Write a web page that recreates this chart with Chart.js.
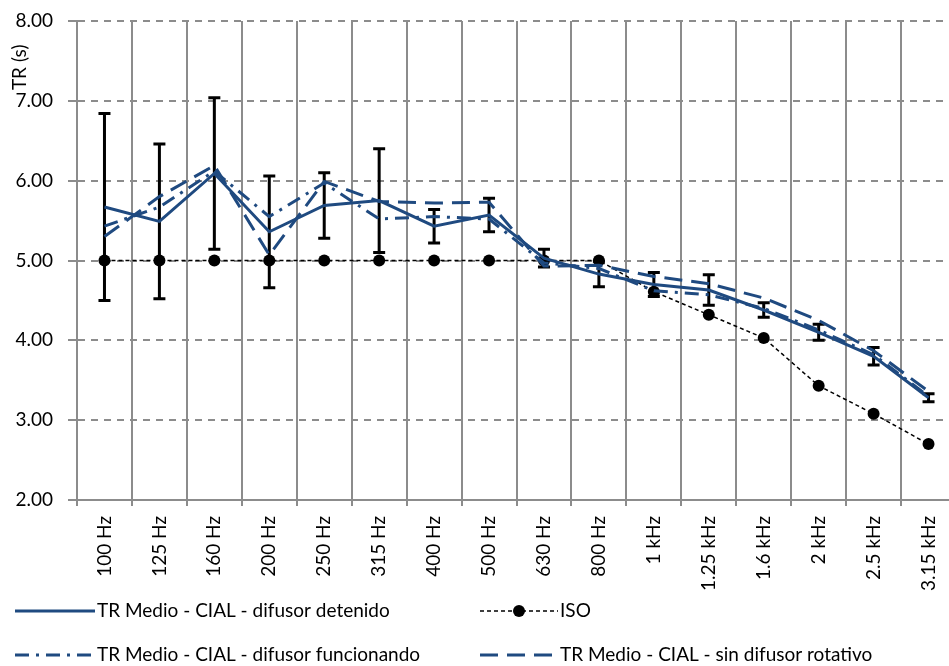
<!DOCTYPE html>
<html>
<head>
<meta charset="utf-8">
<script src="https://cdn.jsdelivr.net/npm/chart.js@4"></script>
<style>
  html, body { margin: 0; padding: 0; background: #fff; overflow: hidden; }
  #wrap { width: 962px; height: 666px; }
</style>
</head>
<body>
<div id="wrap"><canvas id="c" width="962" height="666"></canvas></div>
<script>
// Bandas de tercio de octava
const bandas = ['100 Hz', '125 Hz', '160 Hz', '200 Hz', '250 Hz', '315 Hz', '400 Hz', '500 Hz',
                '630 Hz', '800 Hz', '1 kHz', '1.25 kHz', '1.6 kHz', '2 kHz', '2.5 kHz', '3.15 kHz'];

// Tiempo de reverberación medio (s)
const trDetenido     = [5.67, 5.49, 6.09, 5.36, 5.69, 5.75, 5.43, 5.57, 5.03, 4.83, 4.70, 4.63, 4.38, 4.10, 3.80, 3.28];
const desvDetenido   = [1.17, 0.97, 0.95, 0.70, 0.41, 0.65, 0.21, 0.21, 0.11, 0.16, 0.15, 0.19, 0.09, 0.10, 0.11, 0.05];
const trFuncionando  = [5.43, 5.67, 6.12, 5.55, 5.97, 5.52, 5.55, 5.52, 4.97, 4.90, 4.62, 4.57, 4.40, 4.13, 3.82, 3.30];
const trSinDifusor   = [5.30, 5.80, 6.19, 5.07, 5.99, 5.74, 5.72, 5.73, 4.93, 4.94, 4.80, 4.71, 4.53, 4.25, 3.87, 3.36];
const trISO          = [5.00, 5.00, 5.00, 5.00, 5.00, 5.00, 5.00, 5.00, 5.00, 5.00, 4.61, 4.32, 4.03, 3.43, 3.08, 2.70];

// Eje vertical
const yTicks = [2, 3, 4, 5, 6, 7, 8];
const yTitulo = 'TR (s)';

const AZUL = '#1f4a80';
const GRIS = '#8c8c8c';
const FUENTE = 'Lato, "Liberation Sans", sans-serif';

Chart.defaults.font.family = FUENTE;
Chart.defaults.font.size = 19;
Chart.defaults.color = '#000';

// Barras de error (± desviación) sobre la serie "difusor detenido"
const barrasError = {
  id: 'barrasError',
  beforeDatasetsDraw(chart) {
    const ctx = chart.ctx;
    const x = chart.scales.x, y = chart.scales.y;
    ctx.save();
    ctx.strokeStyle = '#000';
    ctx.lineWidth = 3;
    ctx.lineCap = 'butt';
    trDetenido.forEach((v, i) => {
      const px = x.getPixelForValue(i);
      const top = y.getPixelForValue(v + desvDetenido[i]);
      const bot = y.getPixelForValue(v - desvDetenido[i]);
      ctx.beginPath();
      ctx.moveTo(px, top); ctx.lineTo(px, bot);
      ctx.moveTo(px - 6, top); ctx.lineTo(px + 6, top);
      ctx.moveTo(px - 6, bot); ctx.lineTo(px + 6, bot);
      ctx.stroke();
    });
    ctx.restore();
  }
};

// Título del eje vertical y leyenda
const textos = {
  id: 'textos',
  afterDraw(chart) {
    const ctx = chart.ctx;
    const y = chart.scales.y;
    ctx.save();
    ctx.fillStyle = '#000';
    ctx.font = '19px ' + FUENTE;
    ctx.textAlign = 'center';
    ctx.textBaseline = 'middle';
    ctx.translate(20, y.getPixelForValue(7.42));
    ctx.rotate(-Math.PI / 2);
    ctx.fillText(yTitulo, 0, 0);
    ctx.restore();

    const items = [
      { ds: 0, x: 15, y: 611, len: 80 },
      { ds: 1, x: 480, y: 611, len: 78 },
      { ds: 2, x: 15, y: 655, len: 80 },
      { ds: 3, x: 480, y: 655, len: 78 }
    ];
    ctx.save();
    ctx.font = '19px ' + FUENTE;
    ctx.textAlign = 'left';
    ctx.textBaseline = 'middle';
    items.forEach(it => {
      const d = chart.data.datasets[it.ds];
      ctx.save();
      ctx.strokeStyle = d.borderColor;
      ctx.lineWidth = d.borderWidth;
      ctx.setLineDash(d.borderDash || []);
      ctx.beginPath();
      ctx.moveTo(it.x, it.y);
      ctx.lineTo(it.x + it.len, it.y);
      ctx.stroke();
      if (d.pointRadius) {
        ctx.setLineDash([]);
        ctx.fillStyle = d.pointBackgroundColor;
        ctx.beginPath();
        ctx.arc(it.x + it.len / 2, it.y, d.pointRadius, 0, Math.PI * 2);
        ctx.fill();
      }
      ctx.restore();
      ctx.fillStyle = '#000';
      ctx.fillText(d.label, it.x + it.len + 2, it.y);
    });
    ctx.restore();
  }
};

new Chart(document.getElementById('c'), {
  type: 'line',
  data: {
    labels: bandas,
    datasets: [
      {
        label: 'TR Medio - CIAL - difusor detenido',
        data: trDetenido,
        borderColor: AZUL, borderWidth: 3, pointRadius: 0,
        tension: 0, order: 1
      },
      {
        label: 'ISO',
        data: trISO,
        borderColor: '#000', borderWidth: 1.5, borderDash: [4, 3],
        pointRadius: 6, pointBackgroundColor: '#000', pointBorderColor: '#000', pointBorderWidth: 0,
        tension: 0, order: 4
      },
      {
        label: 'TR Medio - CIAL - difusor funcionando',
        data: trFuncionando,
        borderColor: AZUL, borderWidth: 3, borderDash: [14, 7, 3, 7], pointRadius: 0,
        tension: 0, order: 2
      },
      {
        label: 'TR Medio - CIAL - sin difusor rotativo',
        data: trSinDifusor,
        borderColor: AZUL, borderWidth: 3, borderDash: [18, 9], pointRadius: 0,
        tension: 0, order: 3
      }
    ]
  },
  options: {
    responsive: false,
    animation: false,
    events: [],
    layout: { padding: { top: 21, right: 2, bottom: 66, left: 0 } },
    plugins: { legend: { display: false }, tooltip: { enabled: false } },
    scales: {
      x: {
        offset: true,
        grid: {
          offset: true, color: GRIS, lineWidth: 2,
          tickLength: 6, tickColor: GRIS, tickWidth: 2
        },
        border: { color: GRIS, width: 2 },
        ticks: { minRotation: 90, maxRotation: 90, padding: 10, autoSkip: false },
        afterFit(s) { s.height = 100; }
      },
      y: {
        min: yTicks[0], max: yTicks[yTicks.length - 1],
        grid: {
          color: GRIS, lineWidth: 2,
          tickLength: 9, tickColor: GRIS, tickWidth: 2, tickBorderDash: []
        },
        border: { color: GRIS, width: 2, dash: [7, 6] },
        ticks: {
          stepSize: 1, padding: 15,
          callback: v => v.toFixed(2)
        },
        afterFit(s) {
          s.width = 77;
          s.paddingTop = 10;
          s.paddingBottom = 10;
        }
      }
    }
  },
  plugins: [barrasError, textos]
});
</script>
</body>
</html>
